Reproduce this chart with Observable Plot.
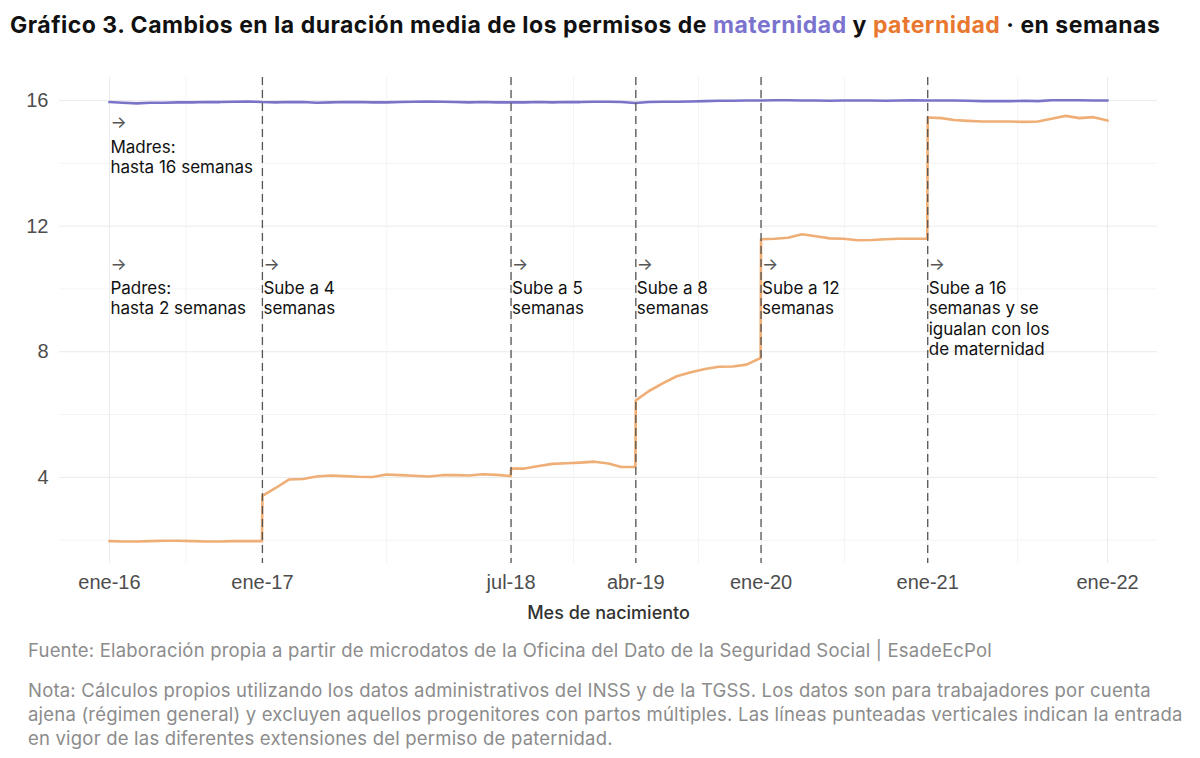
<!DOCTYPE html>
<html><head><meta charset="utf-8">
<script src="https://cdn.jsdelivr.net/npm/d3@7"></script>
<script src="https://cdn.jsdelivr.net/npm/@observablehq/plot@0.6"></script>
<style>
html,body{margin:0;padding:0;background:#fff;}
body{width:1200px;height:758px;overflow:hidden;font-family:Inter,"Noto Sans",sans-serif;}
#title{height:50px;line-height:50px;padding-left:10px;font-size:23px;font-weight:700;color:#111;white-space:nowrap;letter-spacing:0.5px;}
#chart svg{display:block;}
.cap{padding-left:28px;color:#8c8c8c;font-size:18.5px;line-height:24px;white-space:nowrap;letter-spacing:0.2px;}
#fuente{margin-top:8px;}
#nota{margin-top:16px;}
</style></head>
<body>
<div id="title">Gráfico 3. Cambios en la duración media de los permisos de <span style="color:#7b74cf">maternidad</span> y <span style="color:#e8782f">paternidad</span> · en semanas</div>
<div id="chart"></div>
<div id="fuente" class="cap">Fuente: Elaboración propia a partir de microdatos de la Oficina del Dato de la Seguridad Social | EsadeEcPol</div>
<div id="nota" class="cap">Nota: Cálculos propios utilizando los datos administrativos del INSS y de la TGSS. Los datos son para trabajadores por cuenta<br>ajena (régimen general) y excluyen aquellos progenitores con partos múltiples. Las líneas punteadas verticales indican la entrada<br>en vigor de las diferentes extensiones del permiso de paternidad.</div>
<script>
// ---- data ----
// Months of birth, ene-16 … ene-22 (one value per month, dated at month end)
const primerMes = "2016-01";
const ultimoMes = "2022-01";

// Average maternity leave (weeks)
const maternidad = [
  15.95, 15.93, 15.91, 15.93, 15.93, 15.94, 15.94, 15.95, 15.95, 15.96, 15.97, 15.95,
  15.94, 15.95, 15.95, 15.93, 15.94, 15.95, 15.95, 15.94, 15.94, 15.95, 15.96, 15.97,
  15.96, 15.95, 15.94, 15.95, 15.94, 15.94, 15.94, 15.95, 15.94, 15.95, 15.95, 15.96,
  15.96, 15.95, 15.92, 15.95, 15.96, 15.96, 15.97, 15.98, 15.99, 15.99, 16.00, 16.00,
  16.01, 16.01, 16.00, 16.00, 15.99, 16.00, 16.00, 16.00, 15.99, 16.00, 16.01, 16.00,
  16.00, 16.00, 15.99, 15.98, 15.98, 15.98, 15.99, 15.98, 16.01, 16.01, 16.01, 16.00,
  16.00
];

// Average paternity leave (weeks)
const paternidad = [
  1.97, 1.96, 1.96, 1.97, 1.98, 1.98, 1.97, 1.96, 1.96, 1.97, 1.97, 1.97,
  3.67, 3.93, 3.95, 4.03, 4.06, 4.04, 4.02, 4.01, 4.09, 4.07, 4.05, 4.03,
  4.07, 4.07, 4.06, 4.10, 4.08, 4.04, 4.28, 4.36, 4.43, 4.45, 4.47, 4.50,
  4.44, 4.33, 4.33, 6.75, 7.00, 7.22, 7.35, 7.45, 7.52, 7.53, 7.59, 7.80,
  11.60, 11.63, 11.74, 11.68, 11.61, 11.60, 11.55, 11.56, 11.58, 11.60, 11.60, 11.60,
  15.44, 15.38, 15.35, 15.33, 15.33, 15.33, 15.32, 15.33, 15.42, 15.51, 15.44, 15.47,
  15.36
];

// Entry into force of each paternity-leave extension, and value on that day
const cambioFechas = ["2017-01-01", "2018-07-01", "2019-04-01", "2020-01-01", "2021-01-01"];
const cambioValores = [3.41, 4.28, 6.45, 11.58, 15.46];

// Annotations
const notaFechas = ["2016-01-31", "2016-01-31", "2017-01-01", "2018-07-01", "2019-04-01", "2020-01-01", "2021-01-01"];
const notaY = [15.5, 11, 11, 11, 11, 11, 11];
const notaTextos = [
  "Madres:\nhasta 16 semanas",
  "Padres:\nhasta 2 semanas",
  "Sube a 4\nsemanas",
  "Sube a 5\nsemanas",
  "Sube a 8\nsemanas",
  "Sube a 12\nsemanas",
  "Sube a 16\nsemanas y se\nigualan con los\nde maternidad"
];

// Axis ticks
const tickFechas = ["2016-01-31", "2017-01-01", "2018-07-01", "2019-04-01", "2020-01-01", "2021-01-01", "2022-01-31"];
const tickEtiquetas = ["ene-16", "ene-17", "jul-18", "abr-19", "ene-20", "ene-21", "ene-22"];
const yTicks = [4, 8, 12, 16];
const yMinor = [2, 6, 10, 14];

// ---- build ----
const parse = d3.utcParse("%Y-%m-%d");
const parseM = d3.utcParse("%Y-%m");
const mesesInicio = d3.utcMonth.range(parseM(primerMes), d3.utcMonth.offset(parseM(ultimoMes), 1));
const meses = mesesInicio.map(d => d3.utcDay.offset(d3.utcMonth.offset(d, 1), -1)); // month end

const matData = meses.map((d, i) => ({date: d, v: maternidad[i]}));
const patData = meses.map((d, i) => ({date: d, v: paternidad[i]}))
  .concat(cambioFechas.map((d, i) => ({date: parse(d), v: cambioValores[i]})))
  .sort((a, b) => a.date - b.date);

const notas = notaFechas.map((d, i) => ({date: parse(d), y: notaY[i], text: notaTextos[i]}));
const ticks = tickFechas.map(parse);
const tickLabel = new Map(ticks.map((d, i) => [+d, tickEtiquetas[i]]));
const mids = d3.pairs(ticks).map(([a, b]) => new Date((+a + +b) / 2));
const cambios = cambioFechas.map(parse);

const ext = d3.extent(meses);
const pad = (ext[1] - ext[0]) * 0.05;
const xDomain = [new Date(+ext[0] - pad), new Date(+ext[1] + pad)];
const yExt = d3.extent(maternidad.concat(paternidad));
const yPad = (yExt[1] - yExt[0]) * 0.05;

const chart = Plot.plot({
  width: 1200,
  height: 580,
  marginTop: 27,
  marginBottom: 67,
  marginLeft: 59,
  marginRight: 43,
  style: {background: "white", fontFamily: "Inter, sans-serif", overflow: "visible"},
  x: {type: "utc", domain: xDomain},
  y: {domain: [yExt[0] - yPad, yExt[1] + yPad + 0.02]},
  marks: [
    Plot.gridY(yMinor, {stroke: "#f4f4f4", strokeOpacity: 1}),
    Plot.gridY(yTicks, {stroke: "#ebebeb", strokeOpacity: 1}),
    Plot.gridX(mids, {stroke: "#f4f4f4", strokeOpacity: 1}),
    Plot.gridX(ticks, {stroke: "#ebebeb", strokeOpacity: 1}),
    Plot.axisY(yTicks, {tickSize: 0, tickPadding: 11, fontSize: 20, fill: "#4d4d4d", fontFamily: "Liberation Sans, Arial, sans-serif", label: null}),
    Plot.axisX(ticks, {tickSize: 0, tickPadding: 11, fontSize: 20, fill: "#4d4d4d", fontFamily: "Liberation Sans, Arial, sans-serif", tickFormat: d => tickLabel.get(+d), label: null}),
    Plot.text(["Mes de nacimiento"], {frameAnchor: "bottom", dy: 55, fontSize: 18, fontWeight: 500, fill: "#333"}),
    Plot.line(matData, {x: "date", y: "v", stroke: "#7a74c9", strokeWidth: 2.6}),
    Plot.line(patData, {x: "date", y: "v", stroke: "#efae76", strokeWidth: 2.6}),
    Plot.ruleX(cambios, {stroke: "#555", strokeWidth: 1.3, strokeDasharray: "8,5"}),
    Plot.text(notas, {x: "date", y: "y", text: () => "→", textAnchor: "start", lineAnchor: "top", dx: 1, fontSize: 17, fill: "#555"}),
    Plot.text(notas, {x: "date", y: "y", text: "text", textAnchor: "start", lineAnchor: "top", dx: 1, dy: 22, fontSize: 17, lineHeight: 1.2, fill: "#111"})
  ]
});
document.getElementById("chart").append(chart);
</script>
</body></html>
